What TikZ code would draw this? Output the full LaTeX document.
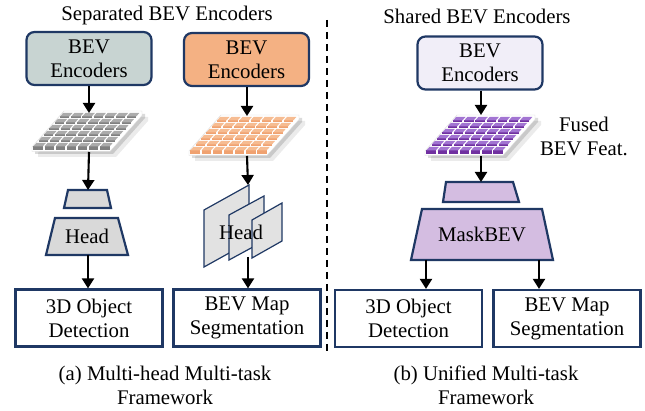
\documentclass[tikz,border=0pt]{standalone}
\usepackage{fontspec}
\setmainfont{Liberation Serif}
\usetikzlibrary{arrows.meta}
\definecolor{navy}{HTML}{1F3864}
\definecolor{encgray}{HTML}{C8D4D2}
\definecolor{encorange}{HTML}{F4B183}
\definecolor{enclav}{HTML}{F1EEF8}
\definecolor{headgray}{HTML}{D9D9D9}
\definecolor{panelgray}{HTML}{E2E2E2}
\definecolor{maskpurple}{HTML}{D4BDE1}
\definecolor{gtop}{HTML}{ABABAB}
\definecolor{gfront}{HTML}{808080}
\definecolor{otop}{HTML}{F6BC92}
\definecolor{ofront}{HTML}{F0A271}
\definecolor{ptop}{HTML}{A274D2}
\definecolor{pfront}{HTML}{7030A0}
\newcommand{\fsz}{\fontsize{20.8}{24}\selectfont}
\newcommand{\bevgrid}[4]{%
 \begin{scope}[shift={(#1,#2)}]
  \fill[black,opacity=.08] (6,10) -- (84,10) -- (116,-26) -- (116,-30) -- (38,-30) -- (6,6) -- cycle;
  \fill[black,opacity=.14] (3,7) -- (81,7) -- (113,-29) -- (113,-33) -- (35,-33) -- (3,3) -- cycle;
  \filldraw[fill=white,draw=black!15,line width=.4pt] (0,4.5) -- (78,4.5) -- (110,-31.5) -- (110,-36) -- (32,-36) -- (0,0) -- cycle;
  \foreach \i in {0,...,6}{\foreach \j in {0,...,5}{
   \pgfmathsetmacro\ua{(\i+0.08)/7*78}
   \pgfmathsetmacro\ub{(\i+0.92)/7*78}
   \pgfmathsetmacro\va{(\j+0.1)/6}
   \pgfmathsetmacro\vb{(\j+0.68)/6}
   \pgfmathsetmacro\th{ifthenelse(\j==0,3.2,2.1)}
   \fill[#4] ({\ua+\va*32},{-\va*36}) -- ({\ub+\va*32},{-\va*36}) -- ({\ub+\va*32},{-\va*36+\th}) -- ({\ua+\va*32},{-\va*36+\th}) -- cycle;
   \fill[#3] ({\ua+\va*32},{-\va*36}) -- ({\ub+\va*32},{-\va*36}) -- ({\ub+\vb*32},{-\vb*36}) -- ({\ua+\vb*32},{-\vb*36}) -- cycle;
  }}
 \end{scope}}
\begin{document}
\begin{tikzpicture}[x=1pt,y=-1pt,font=\fsz,
  enc/.style={draw=navy,line width=2.2pt,rounded corners=8pt,minimum width=125pt,minimum height=53pt,align=center,inner sep=2pt},
  task/.style={draw=navy,line width=2.2pt,fill=white,minimum width=147pt,minimum height=57pt,align=center,inner sep=2pt},
  trap/.style={draw=navy,line width=2.2pt,line join=miter},
  panel/.style={draw=navy,line width=1.2pt,fill=panelgray},
  arr/.style={-{Triangle[length=10pt,width=12pt]},line width=2.1pt},
  captxt/.style={align=center}]
\useasboundingbox (0,0) rectangle (645,411);
\fill[white] (0,0) rectangle (645,411);
% titles
\node (ttl1) at (167,16) {Separated BEV Encoders};
\node (ttl2) at (477,16) {Shared BEV Encoders};
% divider
\coordinate (dtop) at (327,20);
\coordinate (dbot) at (327,353);
\draw[line width=1.8pt,dash pattern=on 7pt off 5pt] (dtop) -- (dbot);
% encoders
\node[enc,fill=encgray] (e1) at (89,58.5) {BEV\\Encoders};
\node[enc,fill=encorange] (e2) at (246.5,59.5) {BEV\\Encoders};
\node[enc,fill=enclav] (e3) at (480,63) {BEV\\Encoders};
% grids
\bevgrid{32}{147}{gtop}{gfront}
\bevgrid{189}{151}{otop}{ofront}
\bevgrid{425}{151}{ptop}{pfront}
\coordinate (g1t) at (89,113);
\coordinate (g1b) at (89,152);
\coordinate (g2t) at (247,116);
\coordinate (g2b) at (247,156);
\coordinate (g3t) at (481,115);
\coordinate (g3b) at (481,156);
\node[captxt] (fused) at (584,136.5) {Fused\\BEV Feat.};
% left heads
\draw[trap,fill=headgray] (68,190) -- (107,190) -- (111,208) -- (64,208) -- cycle;
\coordinate (s1) at (88,190);
\draw[trap,fill=headgray] (55,218) -- (118,218) -- (128,255) -- (46,255) -- cycle;
\node (h1) at (87,236.5) {Head};
\coordinate (h1b) at (88,255);
% panels
\draw[panel] (204,210) -- (249,185) -- (249,242) -- (204,267) -- cycle;
\draw[panel] (229,215) -- (264,196) -- (264,241) -- (229,260) -- cycle;
\draw[panel] (252,220) -- (282,203) -- (282,241) -- (252,258) -- cycle;
\node (h2) at (241,232) {Head};
\coordinate (p2t) at (248,185);
\coordinate (p2b) at (248,257);
% maskbev
\draw[trap,fill=maskpurple] (446,182) -- (513,182) -- (519,202) -- (443,202) -- cycle;
\coordinate (s3) at (481,182);
\draw[trap,fill=maskpurple] (422,209) -- (542,209) -- (553,260) -- (411,260) -- cycle;
\node (mb) at (482,234.5) {MaskBEV};
\coordinate (mbl) at (426,260);
\coordinate (mbr) at (539,260);
% tasks
\node[task] (t1) at (89,318) {3D Object\\Detection};
\node[task] (t2) at (247,318) {BEV Map\\Segmentation};
\node[task] (t3) at (408.5,318.5) {3D Object\\Detection};
\node[task] (t4) at (567,318.5) {BEV Map\\Segmentation};
% arrows
\draw[arr] (e1.south -| g1t) -- (g1t);
\draw[arr] (g1b) -- (s1);
\draw[arr] (h1b) -- (t1.north -| h1b);
\draw[arr] (e2.south -| g2t) -- (g2t);
\draw[arr] (g2b) -- (p2t);
\draw[arr] (p2b) -- (t2.north -| p2b);
\draw[arr] (e3.south -| g3t) -- (g3t);
\draw[arr] (g3b) -- (s3);
\draw[arr] (mbl) -- (t3.north -| mbl);
\draw[arr] (mbr) -- (t4.north -| mbr);
% captions
\node[captxt] (ca) at (165,385) {(a) Multi-head Multi-task\\Framework};
\node[captxt] (cb) at (486,385) {(b) Unified Multi-task\\Framework};
\end{tikzpicture}
\end{document}
